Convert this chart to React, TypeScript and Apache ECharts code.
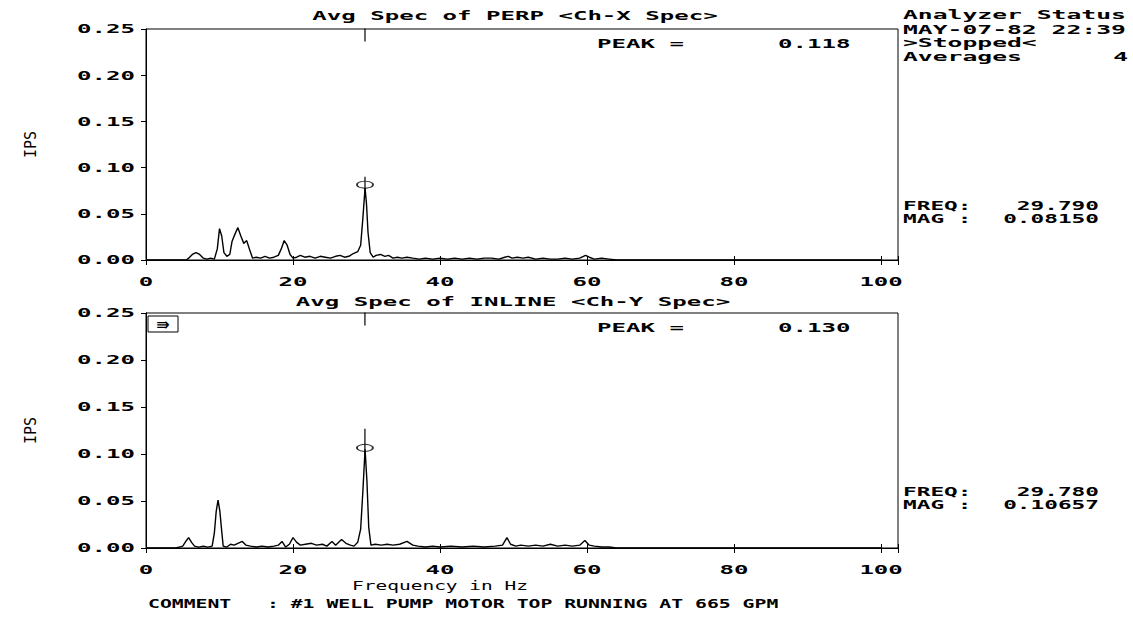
import React, { useEffect, useRef } from "react";
import * as echarts from "echarts";

const FONT = '"DejaVu Sans Mono", monospace';

const xTickValues = [0, 20, 40, 60, 80, 100];
const xTickLabels = ["0", "20", "40", "60", "80", "100"];
const yTickValues = [0, 0.05, 0.1, 0.15, 0.2, 0.25];
const yTickLabels = ["0.00", "0.05", "0.10", "0.15", "0.20", "0.25"];

const perpFreq = [0, 5.5, 5.8, 6.3, 6.8, 7.3, 7.8, 8.3, 8.8, 9.3, 9.7, 10.0, 10.3, 10.6, 11.0, 11.4, 11.7, 12.1, 12.5, 12.9, 13.3, 13.7, 14.1, 14.5, 15.0, 15.6, 16.2, 16.8, 17.4, 18.0, 18.4, 18.8, 19.2, 19.6, 20.0, 20.5, 21.0, 21.6, 22.3, 23.0, 23.7, 24.4, 25.1, 25.8, 26.4, 27.0, 27.6, 28.2, 28.8, 29.2, 29.5, 29.8, 30.0, 30.2, 30.5, 30.9, 31.3, 31.9, 32.5, 33.0, 33.6, 34.2, 34.8, 35.5, 36.3, 37.2, 38.0, 39.0, 40.0, 41.0, 42.0, 43.0, 44.0, 45.0, 46.0, 47.0, 48.0, 48.8, 49.3, 49.8, 50.5, 51.3, 52.0, 53.0, 54.0, 55.0, 56.0, 57.0, 58.0, 59.0, 59.8, 60.3, 61.0, 62.0, 63.0, 64.0, 100];
const perpAmp = [0, 0, 0.002, 0.006, 0.008, 0.006, 0.002, 0.001, 0.002, 0.001, 0.012, 0.034, 0.026, 0.008, 0.004, 0.006, 0.02, 0.028, 0.035, 0.026, 0.018, 0.021, 0.011, 0.002, 0.003, 0.002, 0.004, 0.002, 0.003, 0.005, 0.012, 0.021, 0.016, 0.006, 0.002, 0.003, 0.005, 0.003, 0.004, 0.002, 0.004, 0.003, 0.002, 0.004, 0.005, 0.003, 0.004, 0.007, 0.009, 0.016, 0.045, 0.078, 0.06, 0.03, 0.008, 0.003, 0.005, 0.006, 0.004, 0.005, 0.002, 0.003, 0.002, 0.003, 0.002, 0.001, 0.002, 0.001, 0.002, 0.001, 0.002, 0.001, 0.002, 0.001, 0.002, 0.002, 0.001, 0.003, 0.004, 0.002, 0.003, 0.002, 0.003, 0.001, 0.002, 0.001, 0.001, 0.002, 0.001, 0.002, 0.005, 0.003, 0.001, 0.002, 0.001, 0, 0];

const inlineFreq = [0, 4.0, 4.5, 5.0, 5.5, 5.8, 6.2, 6.6, 7.2, 7.8, 8.4, 9.0, 9.3, 9.55, 9.8, 10.05, 10.3, 10.5, 11.0, 11.5, 12.0, 12.5, 13.1, 13.6, 14.2, 15.0, 15.8, 16.6, 17.4, 18.0, 18.5, 19.0, 19.5, 20.0, 20.5, 21.0, 21.7, 22.5, 23.2, 24.0, 24.6, 25.3, 25.8, 26.6, 27.2, 27.8, 28.3, 28.8, 29.2, 29.5, 29.8, 30.05, 30.3, 30.6, 31.2, 32.0, 32.8, 33.6, 34.5, 35.5, 36.3, 37.0, 38.0, 39.0, 40.0, 41.5, 43.0, 44.5, 46.0, 47.5, 48.5, 49.1, 49.6, 50.3, 51.0, 52.0, 53.0, 54.0, 55.0, 56.0, 57.0, 58.0, 59.0, 59.7, 60.3, 61.0, 62.0, 63.0, 64.0, 100];
const inlineAmp = [0, 0, 0.001, 0.002, 0.008, 0.011, 0.006, 0.002, 0.001, 0.002, 0.001, 0.002, 0.016, 0.039, 0.051, 0.039, 0.018, 0.002, 0.001, 0.004, 0.003, 0.005, 0.007, 0.003, 0.002, 0.001, 0.002, 0.001, 0.002, 0.003, 0.007, 0.001, 0.004, 0.011, 0.006, 0.003, 0.004, 0.005, 0.003, 0.004, 0.002, 0.007, 0.003, 0.009, 0.005, 0.003, 0.002, 0.006, 0.02, 0.06, 0.105, 0.072, 0.022, 0.003, 0.004, 0.003, 0.004, 0.003, 0.004, 0.007, 0.003, 0.002, 0.001, 0.002, 0.001, 0.002, 0.001, 0.002, 0.001, 0.002, 0.003, 0.011, 0.004, 0.002, 0.003, 0.002, 0.003, 0.002, 0.004, 0.002, 0.003, 0.002, 0.003, 0.008, 0.003, 0.002, 0.001, 0.001, 0, 0];

const cursorFreq = [29.79, 29.78];
const cursorMag = [0.0815, 0.10657];
const freqTexts = ["29.790", "29.780"];
const magTexts = ["0.08150", "0.10657"];
const peakTexts = ["0.118", "0.130"];
const panelTitles = ["Avg Spec of PERP <Ch-X Spec>", "Avg Spec of INLINE <Ch-Y Spec>"];
const statusLines = ["Analyzer Status", "MAY-07-82 22:39", ">Stopped<", "Averages"];
const averagesCount = "4";
const yAxisName = "IPS";
const xAxisName = "Frequency in Hz";
const commentText = "COMMENT   : #1 WELL PUMP MOTOR TOP RUNNING AT 665 GPM";

const X_MAX = 102.3;

function txt(text: string, x: number, y: number, o: any = {}) {
  const align = o.align ?? "left";
  return {
    type: "text",
    x,
    y,
    scaleX: o.sx ?? 1.85,
    rotation: o.rotation ?? 0,
    silent: true,
    z: 100,
    style: {
      text,
      font: `${o.weight ?? "bold"} ${o.size ?? 13}px ${FONT}`,
      fill: "#000",
      align,
      textAlign: align,
      verticalAlign: "middle",
      textVerticalAlign: "middle",
    },
  };
}

export default function App() {
  const ref = useRef<HTMLDivElement>(null);

  useEffect(() => {
    if (!ref.current) return;
    const chart = echarts.init(ref.current, null, { renderer: "svg" });

    const grids = [
      { left: 146, top: 29, width: 752, height: 231 },
      { left: 146, top: 313, width: 752, height: 235 },
    ];

    const xAxes: any[] = [];
    const yAxes: any[] = [];
    const series: any[] = [];
    const lineStyle = { color: "#000", width: 1 };

    [0, 1].forEach((g) => {
      xAxes.push({
        type: "value", gridIndex: g, min: 0, max: X_MAX, interval: 20, position: "bottom",
        axisLine: { show: true, lineStyle }, axisTick: { show: true, inside: true, length: 4, lineStyle },
        axisLabel: { show: false }, splitLine: { show: false },
      });
      xAxes.push({
        type: "value", gridIndex: g, min: 0, max: X_MAX, interval: 20, position: "top",
        axisLine: { show: true, lineStyle }, axisTick: { show: true, inside: true, length: 5, lineStyle },
        axisLabel: { show: false }, splitLine: { show: false },
      });
      yAxes.push({
        type: "value", gridIndex: g, min: 0, max: 0.25, interval: 0.05, position: "left",
        name: yAxisName, nameLocation: "middle", nameRotate: 90, nameGap: 108,
        nameTextStyle: { fontFamily: FONT, fontSize: 15, color: "#000" },
        axisLine: { show: true, lineStyle }, axisTick: { show: true, inside: false, length: 5, lineStyle },
        axisLabel: { show: false }, splitLine: { show: false },
      });
      yAxes.push({
        type: "value", gridIndex: g, min: 0, max: 0.25, interval: 0.05, position: "right",
        axisLine: { show: true, lineStyle }, axisTick: { show: true, inside: true, length: 5, lineStyle },
        axisLabel: { show: false }, splitLine: { show: false },
      });
    });

    const traces = [
      perpFreq.map((f, i) => [f, perpAmp[i]]),
      inlineFreq.map((f, i) => [f, inlineAmp[i]]),
    ];

    [0, 1].forEach((g) => {
      series.push({
        type: "line", xAxisIndex: g * 2, yAxisIndex: g * 2, data: traces[g],
        symbol: "none", lineStyle: { color: "#000", width: 1.4 }, z: 3,
      });
      series.push({
        type: "scatter", xAxisIndex: g * 2, yAxisIndex: g * 2,
        data: [[cursorFreq[g], 0.25]], symbol: "rect", symbolSize: [1.5, 13], symbolOffset: [0, 6],
        itemStyle: { color: "#000" }, z: 4, silent: true,
      });
      series.push({
        type: "scatter", xAxisIndex: g * 2, yAxisIndex: g * 2,
        data: [[cursorFreq[g], cursorMag[g]]], symbol: "rect", symbolSize: [1.5, g === 0 ? 16 : 26],
        symbolOffset: [0, g === 0 ? 0 : -6],
        itemStyle: { color: "#000" }, z: 5, silent: true,
      });
      series.push({
        type: "scatter", xAxisIndex: g * 2, yAxisIndex: g * 2,
        data: [[cursorFreq[g], cursorMag[g]]], symbol: "circle", symbolSize: [16, 7],
        itemStyle: { color: "rgba(255,255,255,0)", borderColor: "#000", borderWidth: 1.3 }, z: 6, silent: true,
      });
    });

    chart.setOption({
      animation: false,
      backgroundColor: "#fff",
      grid: grids.map((gr) => ({ ...gr, show: true, borderColor: "#000", borderWidth: 1, backgroundColor: "transparent" })),
      xAxis: xAxes,
      yAxis: yAxes,
      series,
    });

    const gfx: any[] = [];
    [0, 1].forEach((g) => {
      yTickValues.forEach((v, i) => {
        const p = chart.convertToPixel({ gridIndex: g }, [0, v]) as number[];
        gfx.push(txt(yTickLabels[i], p[0] - 11, p[1], { align: "right" }));
      });
      xTickValues.forEach((v, i) => {
        const p = chart.convertToPixel({ gridIndex: g }, [v, 0]) as number[];
        gfx.push(txt(xTickLabels[i], p[0], p[1] + 22, { align: "center" }));
      });
    });

    gfx.push(txt(panelTitles[0], 515, 16, { align: "center" }));
    gfx.push(txt("PEAK =", 597, 44));
    gfx.push(txt(peakTexts[0], 778, 44));
    gfx.push(txt(panelTitles[1], 513, 302, { align: "center" }));
    gfx.push(txt("PEAK =", 597, 328));
    gfx.push(txt(peakTexts[1], 778, 328));

    gfx.push(txt(statusLines[0], 903, 15, { sx: 1.9 }));
    gfx.push(txt(statusLines[1], 903, 30, { sx: 1.9 }));
    gfx.push(txt(statusLines[2], 903, 43, { sx: 1.9 }));
    gfx.push(txt(statusLines[3], 903, 57, { sx: 1.9 }));
    gfx.push(txt(averagesCount, 1128, 57, { sx: 1.9, align: "right" }));

    const readY = [[205, 218], [491, 504]];
    [0, 1].forEach((g) => {
      gfx.push(txt("FREQ:", 903, readY[g][0], { sx: 1.75 }));
      gfx.push(txt(freqTexts[g], 1099, readY[g][0], { sx: 1.75, align: "right" }));
      gfx.push(txt("MAG :", 903, readY[g][1], { sx: 1.75 }));
      gfx.push(txt(magTexts[g], 1099, readY[g][1], { sx: 1.75, align: "right" }));
    });

    gfx.push(txt(xAxisName, 440, 586, { align: "center", sx: 1.5, weight: "normal" }));
    gfx.push(txt(commentText, 148, 603, { sx: 1.52 }));

    gfx.push({
      type: "rect", shape: { x: 148, y: 316, width: 30, height: 16 },
      style: { fill: "#fff", stroke: "#000", lineWidth: 1 }, z: 100, silent: true,
    });
    gfx.push({
      type: "text", x: 163, y: 324, silent: true, z: 101,
      style: { text: "⇛", font: `bold 16px "DejaVu Sans"`, fill: "#000", align: "center", textAlign: "center", verticalAlign: "middle", textVerticalAlign: "middle" },
    });

    chart.setOption({ graphic: gfx });

    return () => chart.dispose();
  }, []);

  return (
    <div
      ref={ref}
      style={{ position: "fixed", left: 0, top: 0, width: 1133, height: 626, background: "#fff" }}
    />
  );
}
